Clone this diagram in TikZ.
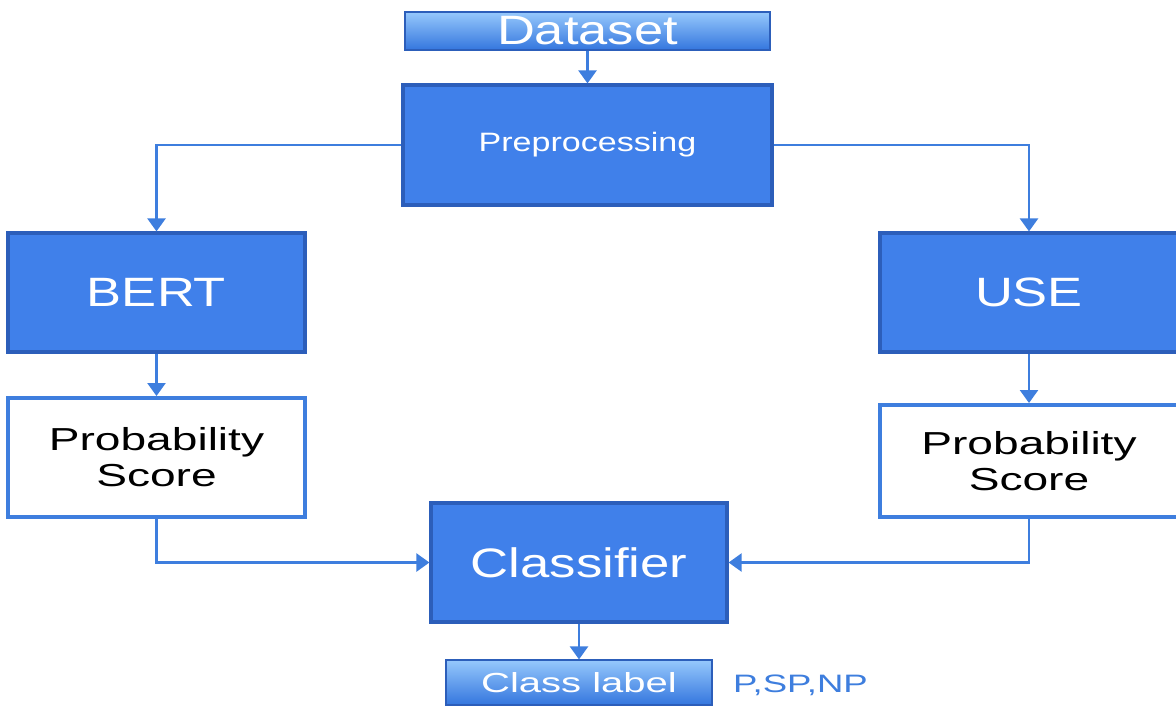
\documentclass[tikz,border=0pt]{standalone}
\usepackage{fontspec}
\setmainfont{Liberation Sans}[FakeStretch=1.28]
\newfontfamily\widefont{Liberation Sans}[FakeStretch=1.45]
\usetikzlibrary{positioning, arrows.meta}

\definecolor{boxblue}{RGB}{64,128,234}
\definecolor{boxedge}{RGB}{44,94,186}
\definecolor{linkblue}{RGB}{62,126,222}
\definecolor{lightblue}{RGB}{150,200,252}
\definecolor{midblue}{RGB}{52,118,222}

\tikzset{
  stage/.style={draw=boxedge, fill=boxblue, line width=1.6pt, text=white, inner sep=0pt, align=center},
  scorebox/.style={draw=linkblue, fill=white, line width=2pt, inner sep=0pt, align=center,
    font=\widefont\fontsize{15.9}{18}\selectfont},
  endbox/.style={draw=boxedge, line width=0.6pt, top color=lightblue, bottom color=midblue,
    text=white, inner sep=0pt},
  tagtext/.style={text=linkblue, inner sep=0pt, font=\widefont\fontsize{12.6}{14}\selectfont},
  link/.style={draw=linkblue, line width=1.2pt, ->}
}

\begin{document}
\begin{tikzpicture}[x=0.5pt, y=-0.5pt, >={Triangle[width=9pt,length=6.5pt]}] %1px = 0.5pt
  \fill[white] (0,0) rectangle (1176,709);
  \useasboundingbox (0,0) rectangle (1176,709);
  % top of the pipeline
  \node[endbox, minimum width=182.5pt, minimum height=19pt, font=\fontsize{20.5}{22}\selectfont]
    (dataset) at (587.5,31) {Dataset};
  \node[stage, minimum width=184.5pt, minimum height=60pt, font=\fontsize{13.3}{15}\selectfont]
    (prep) at (587.5,145) {Preprocessing};
  % the two encoders
  \node[stage, minimum width=148.5pt, minimum height=59.5pt, font=\fontsize{20.5}{22}\selectfont]
    (bert) at (156.5,292.5) {BERT};
  \node[stage, minimum width=149pt, minimum height=59.5pt, font=\fontsize{20.5}{22}\selectfont]
    (use) at (1029,292.5) {USE};
  \node[scorebox, minimum width=148.5pt, minimum height=59.5pt] (psleft) at (156.5,457.5) {Probability\\Score};
  \node[scorebox, minimum width=149pt, minimum height=56pt] (psright) at (1029,461) {Probability\\Score};
  % output side
  \node[stage, minimum width=148pt, minimum height=59.5pt, font=\fontsize{20.6}{22}\selectfont]
    (clf) at (579,562.5) {Classifier};
  \node[endbox, minimum width=133pt, minimum height=22.5pt, font=\widefont\fontsize{13.8}{15}\selectfont]
    (label) at (579,682.5) {Class label};
  \node[tagtext, right=10pt of label, yshift=-1.5pt] (tags) {P,SP,NP};

  \draw[link] (dataset) -- (prep);
  \draw[link] (prep.west) -| (bert.north);
  \draw[link] (prep.east) -| (use.north);
  \draw[link] (bert) -- (psleft);
  \draw[link] (use) -- (psright);
  \draw[link] (psleft.south) |- (clf.west);
  \draw[link] (psright.south) |- (clf.east);
  \draw[link] (clf) -- (label);
\end{tikzpicture}
\end{document}
